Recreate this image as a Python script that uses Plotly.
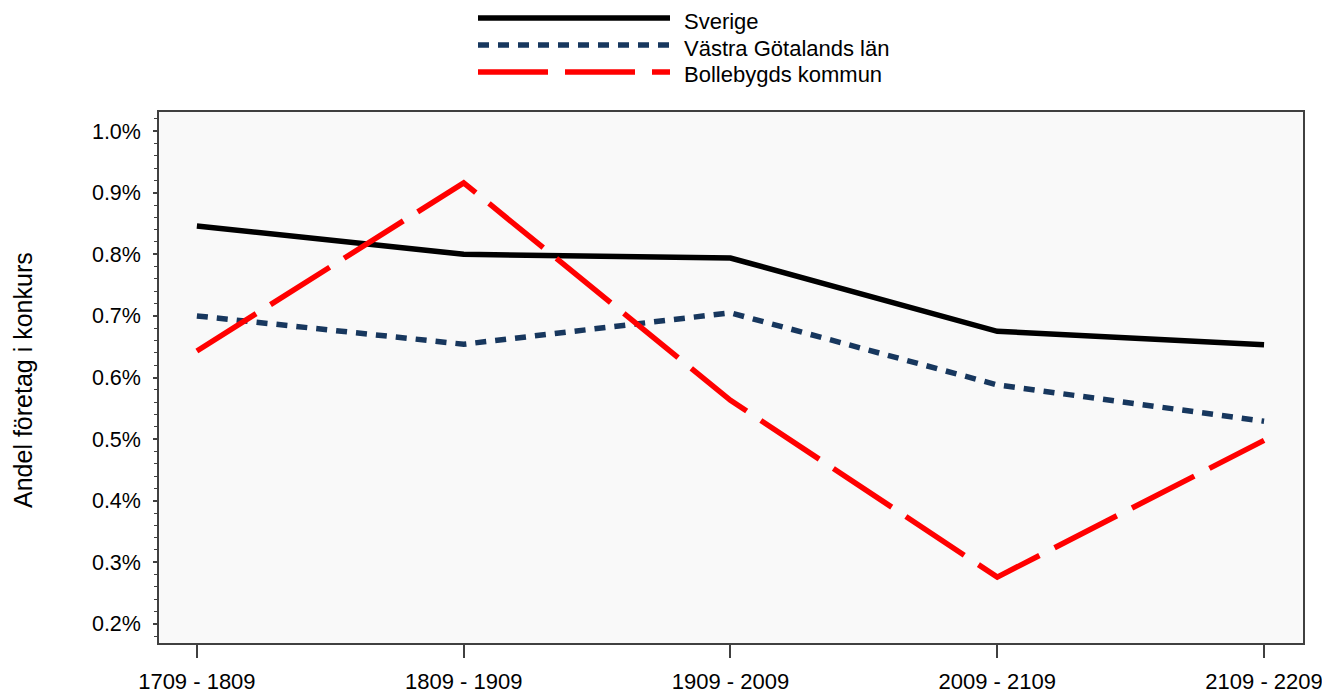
import plotly.graph_objects as go

# Data (share of companies in bankruptcy)
periods = ["1709 - 1809", "1809 - 1909", "1909 - 2009", "2009 - 2109", "2109 - 2209"]
sverige = [0.00846, 0.00800, 0.00794, 0.00675, 0.00653]
vastra_gotaland = [0.00700, 0.00654, 0.00705, 0.00588, 0.00529]
bollebygd = [0.00643, 0.00916, 0.00563, 0.00276, 0.00498]

series_names = ["Sverige", "Västra Götalands län", "Bollebygds kommun"]
series_colors = ["#000000", "#17375E", "#FF0000"]
series_dash = ["solid", "11px,9px", "70px,17px"]

# the page adds an 8px body margin, so the figure is a bit smaller than the window
OFF = 8
W, H = 1330 - OFF, 696 - OFF
M = dict(l=159 - OFF, r=27, t=112 - OFF, b=53)
FONT = "Liberation Sans, Arial, sans-serif"

fig = go.Figure()
for name, vals, col, dash in zip(series_names, [sverige, vastra_gotaland, bollebygd],
                                 series_colors, series_dash):
    fig.add_trace(go.Scatter(
        x=list(range(len(periods))), y=vals, mode="lines", name=name,
        line=dict(color=col, width=5.5, dash=dash),
        showlegend=False,
    ))

# custom legend with long line samples (screen pixel -> paper conversion)
pw = W - M["l"] - M["r"]
ph = H - M["t"] - M["b"]


def px_x(x):
    return (x - OFF - M["l"]) / pw


def px_y(y):
    return (H - M["b"] - (y - OFF)) / ph


legend_y = [18, 45, 72]
for name, col, dash, ly in zip(series_names, series_colors, series_dash, legend_y):
    fig.add_shape(type="line", xref="paper", yref="paper",
                  x0=px_x(478), x1=px_x(670), y0=px_y(ly), y1=px_y(ly),
                  line=dict(color=col, width=5.5, dash=dash))
    fig.add_annotation(xref="paper", yref="paper", x=px_x(683), y=px_y(ly + 3),
                       text=name, showarrow=False, xanchor="left", yanchor="middle",
                       borderpad=0,
                       font=dict(size=22, color="#000000", family=FONT))

# y axis title
fig.add_annotation(xref="paper", yref="paper", x=px_x(23), y=px_y(380),
                   text="Andel företag i konkurs", showarrow=False, textangle=-90,
                   xanchor="center", yanchor="middle", borderpad=0,
                   font=dict(size=25, color="#000000", family=FONT))

fig.update_layout(
    width=W, height=H,
    margin=M,
    paper_bgcolor="white",
    plot_bgcolor="#F9F9F9",
    font=dict(family=FONT, size=22, color="#000000"),
    showlegend=False,
)

fig.update_xaxes(
    tickmode="array", tickvals=list(range(len(periods))), ticktext=periods,
    range=[-0.142, 4.146],
    showgrid=False, zeroline=False,
    showline=True, linecolor="#404040", linewidth=1.5, mirror=True,
    ticks="outside", ticklen=13, tickcolor="#404040", tickwidth=1.5,
    ticklabelstandoff=5,
    tickfont=dict(size=22),
    automargin=False,
)

fig.update_yaxes(
    range=[0.00169, 0.01031],
    tickmode="array",
    tickvals=[0.002, 0.003, 0.004, 0.005, 0.006, 0.007, 0.008, 0.009, 0.010],
    tickformat=".1%",
    showgrid=False, zeroline=False,
    showline=True, linecolor="#404040", linewidth=1.5, mirror=True,
    ticks="outside", ticklen=4, tickcolor="#404040", tickwidth=1.5,
    minor=dict(dtick=0.0002, tick0=0.002, ticks="outside", ticklen=3,
               tickcolor="#404040", tickwidth=1, showgrid=False),
    ticklabelstandoff=8,
    tickfont=dict(size=21.5),
    automargin=False,
)

fig.write_html("out.html")
